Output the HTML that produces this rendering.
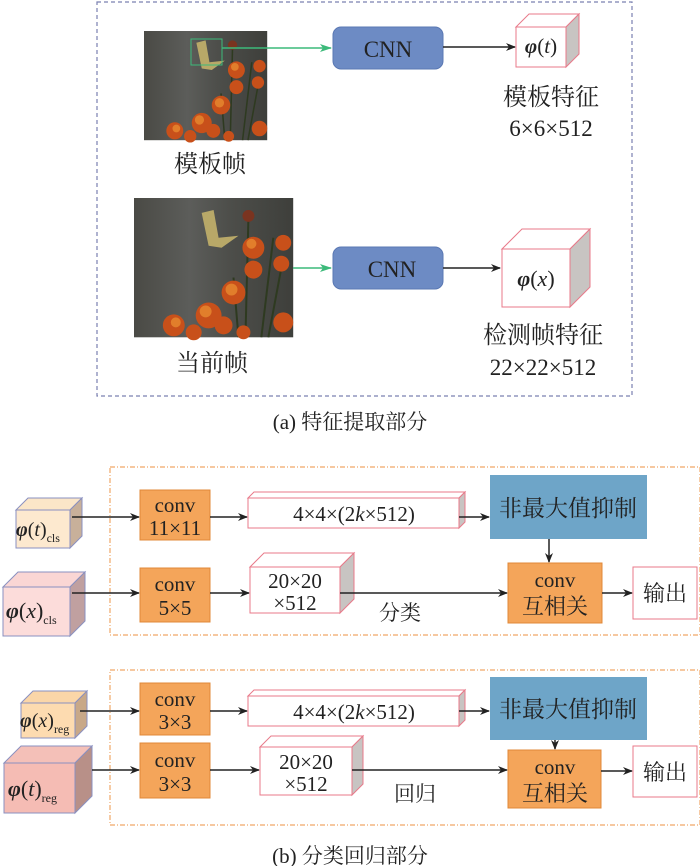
<!DOCTYPE html>
<html><head><meta charset="utf-8"><style>
html,body{margin:0;padding:0;background:#fff;}
svg{display:block;}
text{font-family:"Liberation Serif","Noto Serif CJK SC",serif;fill:#222;}
.cj{font-family:"Liberation Serif","Noto Serif CJK SC","Noto Sans CJK SC",serif;}
</style></head><body>
<svg width="700" height="866" viewBox="0 0 700 866" xmlns="http://www.w3.org/2000/svg">
<defs>
<marker id="ab" markerWidth="10" markerHeight="8" refX="9" refY="4" orient="auto" markerUnits="userSpaceOnUse"><path d="M0,0 L10,4 L0,8 L3,4z" fill="#222"/></marker>
<marker id="ag" markerWidth="12" markerHeight="8" refX="11" refY="4" orient="auto" markerUnits="userSpaceOnUse"><path d="M0,0 L12,4 L0,8 L3,4z" fill="#3cba7a"/></marker>
<linearGradient id="bg" x1="0" x2="1"><stop offset="0" stop-color="#4a4a45"/><stop offset="0.35" stop-color="#5c5d5a"/><stop offset="0.6" stop-color="#4d4e4a"/><stop offset="1" stop-color="#3e3f3b"/></linearGradient>
<g id="photo">
<rect x="0" y="0" width="160" height="140" fill="url(#bg)"/>
<g stroke="#2e3a20" stroke-width="2" fill="none"><path d="M115,20 L112,140"/><path d="M140,40 L128,140"/><path d="M100,80 L105,140"/><path d="M150,60 L135,140"/></g>
<g fill="#c8501a">
<circle cx="115" cy="18" r="6" fill="#7a3420"/>
<circle cx="120" cy="50" r="11"/><circle cx="150" cy="45" r="8"/><circle cx="148" cy="66" r="8"/>
<circle cx="120" cy="72" r="9"/><circle cx="100" cy="95" r="12"/><circle cx="75" cy="118" r="13"/>
<circle cx="40" cy="128" r="11"/><circle cx="150" cy="125" r="10"/><circle cx="110" cy="135" r="7"/><circle cx="60" cy="135" r="8"/><circle cx="90" cy="128" r="9"/>
</g>
<g fill="#e88a30" opacity="0.8"><circle cx="118" cy="46" r="5"/><circle cx="98" cy="92" r="6"/><circle cx="72" cy="114" r="6"/><circle cx="42" cy="125" r="5"/></g>
<path d="M68,15 L80,12 L85,40 L105,38 L88,50 L75,48 Z" fill="#b8a868"/>
</g>
</defs>

<!-- Part (a) -->
<rect x="97" y="2" width="535" height="394" fill="none" stroke="#7a80b0" stroke-width="1.2" stroke-dasharray="4,3"/>
<use href="#photo" transform="translate(144,31) scale(0.77,0.78)"/>
<rect x="191" y="39" width="31" height="26" fill="none" stroke="#3cba7a" stroke-width="1"/>
<line x1="222" y1="48" x2="331" y2="48" stroke="#3cba7a" stroke-width="1.5" marker-end="url(#ag)"/>
<text x="210" y="172" font-size="24" text-anchor="middle" class="cj">模板帧</text>
<rect x="333" y="27" width="110" height="42" rx="8" fill="#6d8bc4" stroke="#5a78b3"/>
<text x="388" y="57" font-size="23" text-anchor="middle">CNN</text>
<line x1="443" y1="47" x2="515" y2="47" stroke="#222" stroke-width="1.5" marker-end="url(#ab)"/>
<polygon points="516,27 529,14 579,14 566,27" fill="#fff" stroke="#e87a8a"/>
<polygon points="566,27 579,14 579,54 566,67" fill="#c8c4c2" stroke="#e87a8a"/>
<rect x="516" y="27" width="50" height="40" fill="#fff" stroke="#e87a8a"/>
<text x="541" y="53" font-size="21" text-anchor="middle" font-style="italic" font-weight="bold">φ<tspan font-weight="normal" font-style="normal">(</tspan><tspan font-weight="normal">t</tspan><tspan font-weight="normal" font-style="normal">)</tspan></text>
<text x="551" y="105" font-size="24" text-anchor="middle" class="cj">模板特征</text>
<text x="551" y="136" font-size="23" text-anchor="middle">6×6×512</text>

<use href="#photo" transform="translate(134,198) scale(0.995,0.995)"/>
<text x="212" y="371" font-size="24" text-anchor="middle" class="cj">当前帧</text>
<line x1="293" y1="268" x2="331" y2="268" stroke="#3cba7a" stroke-width="1.5" marker-end="url(#ag)"/>
<rect x="333" y="247" width="110" height="42" rx="8" fill="#6d8bc4" stroke="#5a78b3"/>
<text x="392" y="277" font-size="23" text-anchor="middle">CNN</text>
<line x1="443" y1="268" x2="500" y2="268" stroke="#222" stroke-width="1.5" marker-end="url(#ab)"/>
<polygon points="502,249 522,229 590,229 570,249" fill="#fff" stroke="#e87a8a"/>
<polygon points="570,249 590,229 590,287 570,307" fill="#c8c4c2" stroke="#e87a8a"/>
<rect x="502" y="249" width="68" height="58" fill="#fff" stroke="#e87a8a"/>
<text x="536" y="286" font-size="22" text-anchor="middle" font-style="italic" font-weight="bold">φ<tspan font-weight="normal" font-style="normal">(</tspan><tspan font-weight="normal">x</tspan><tspan font-weight="normal" font-style="normal">)</tspan></text>
<text x="543" y="343" font-size="24" text-anchor="middle" class="cj">检测帧特征</text>
<text x="543" y="375" font-size="23" text-anchor="middle">22×22×512</text>
<text x="350" y="429" font-size="21" text-anchor="middle" class="cj">(a) 特征提取部分</text>

<!-- Part (b) cls -->
<rect x="110" y="467" width="590" height="168" fill="none" stroke="#f0a868" stroke-width="1.2" stroke-dasharray="5,2,1,2"/>
<polygon points="16,510 28,498 82,498 70,510" fill="#fbe6c8" stroke="#8a90c0"/>
<polygon points="70,510 82,498 82,536 70,548" fill="#c8b09a" stroke="#8a90c0"/>
<rect x="16" y="510" width="54" height="38" fill="#fde9cf" stroke="#8a90c0"/>
<text x="16" y="536" font-size="20" font-style="italic" font-weight="bold">φ<tspan font-weight="normal" font-style="normal">(</tspan><tspan font-weight="normal">t</tspan><tspan font-weight="normal" font-style="normal">)</tspan><tspan font-size="12" font-style="normal" font-weight="normal" dy="6">cls</tspan></text>
<line x1="72" y1="517" x2="139" y2="517" stroke="#222" stroke-width="1.5" marker-end="url(#ab)"/>
<rect x="140" y="490" width="70" height="50" fill="#f4a55a" stroke="#e08838"/>
<text x="175" y="512" font-size="21" text-anchor="middle">conv</text>
<text x="175" y="535" font-size="21" text-anchor="middle">11×11</text>
<line x1="210" y1="517" x2="247" y2="517" stroke="#222" stroke-width="1.5" marker-end="url(#ab)"/>
<polygon points="248,498 254,492 465,492 459,498" fill="#fff" stroke="#e87a8a"/>
<polygon points="459,498 465,492 465,522 459,528" fill="#c8c4c2" stroke="#e87a8a"/>
<rect x="248" y="498" width="211" height="30" fill="#fff" stroke="#e87a8a"/>
<text x="354" y="521" font-size="21" text-anchor="middle">4×4×(2<tspan font-style="italic">k</tspan>×512)</text>
<line x1="459" y1="517" x2="489" y2="517" stroke="#222" stroke-width="1.5" marker-end="url(#ab)"/>
<rect x="490" y="475" width="157" height="64" fill="#6ea5c8"/>
<text x="568" y="516" font-size="23" text-anchor="middle" class="cj">非最大值抑制</text>
<line x1="549" y1="539" x2="549" y2="562" stroke="#222" stroke-width="1.5" marker-end="url(#ab)"/>
<polygon points="3,587 18,572 85,572 70,587" fill="#fad6d4" stroke="#8a90c0"/>
<polygon points="70,587 85,572 85,621 70,636" fill="#c0a0a0" stroke="#8a90c0"/>
<rect x="3" y="587" width="67" height="49" fill="#fcdcda" stroke="#8a90c0"/>
<text x="6" y="618" font-size="22" font-style="italic" font-weight="bold">φ<tspan font-weight="normal" font-style="normal">(</tspan><tspan font-weight="normal">x</tspan><tspan font-weight="normal" font-style="normal">)</tspan><tspan font-size="12" font-style="normal" font-weight="normal" dy="6">cls</tspan></text>
<line x1="72" y1="593" x2="139" y2="593" stroke="#222" stroke-width="1.5" marker-end="url(#ab)"/>
<rect x="140" y="568" width="70" height="54" fill="#f4a55a" stroke="#e08838"/>
<text x="175" y="591" font-size="21" text-anchor="middle">conv</text>
<text x="175" y="615" font-size="21" text-anchor="middle">5×5</text>
<line x1="210" y1="593" x2="249" y2="593" stroke="#222" stroke-width="1.5" marker-end="url(#ab)"/>
<polygon points="250,567 264,553 354,553 340,567" fill="#fff" stroke="#e87a8a"/>
<polygon points="340,567 354,553 354,599 340,613" fill="#c8c4c2" stroke="#e87a8a"/>
<rect x="250" y="567" width="90" height="46" fill="#fff" stroke="#e87a8a"/>
<text x="295" y="588" font-size="21" text-anchor="middle">20×20</text>
<text x="295" y="610" font-size="21" text-anchor="middle">×512</text>
<line x1="340" y1="593" x2="507" y2="593" stroke="#222" stroke-width="1.5" marker-end="url(#ab)"/>
<text x="400" y="620" font-size="21" text-anchor="middle" class="cj">分类</text>
<rect x="508" y="563" width="94" height="60" fill="#f4a55a" stroke="#e08838"/>
<text x="555" y="587" font-size="21" text-anchor="middle">conv</text>
<text x="555" y="614" font-size="22" text-anchor="middle" class="cj">互相关</text>
<line x1="602" y1="593" x2="632" y2="593" stroke="#222" stroke-width="1.5" marker-end="url(#ab)"/>
<rect x="633" y="567" width="64" height="52" fill="#fff" stroke="#e87a8a"/>
<text x="665" y="601" font-size="22" text-anchor="middle" class="cj">输出</text>

<!-- Part (b) reg -->
<rect x="110" y="670" width="590" height="155" fill="none" stroke="#f0a868" stroke-width="1.2" stroke-dasharray="5,2,1,2"/>
<polygon points="21,703 33,691 87,691 75,703" fill="#fbd6a8" stroke="#8a90c0"/>
<polygon points="75,703 87,691 87,726 75,738" fill="#c8a888" stroke="#8a90c0"/>
<rect x="21" y="703" width="54" height="35" fill="#fddbb0" stroke="#8a90c0"/>
<text x="20" y="727" font-size="20" font-style="italic" font-weight="bold">φ<tspan font-weight="normal" font-style="normal">(</tspan><tspan font-weight="normal">x</tspan><tspan font-weight="normal" font-style="normal">)</tspan><tspan font-size="12" font-style="normal" font-weight="normal" dy="6">reg</tspan></text>
<line x1="80" y1="711" x2="139" y2="711" stroke="#222" stroke-width="1.5" marker-end="url(#ab)"/>
<rect x="140" y="683" width="70" height="52" fill="#f4a55a" stroke="#e08838"/>
<text x="175" y="706" font-size="21" text-anchor="middle">conv</text>
<text x="175" y="729" font-size="21" text-anchor="middle">3×3</text>
<line x1="210" y1="711" x2="247" y2="711" stroke="#222" stroke-width="1.5" marker-end="url(#ab)"/>
<polygon points="248,696 254,690 465,690 459,696" fill="#fff" stroke="#e87a8a"/>
<polygon points="459,696 465,690 465,720 459,726" fill="#c8c4c2" stroke="#e87a8a"/>
<rect x="248" y="696" width="211" height="30" fill="#fff" stroke="#e87a8a"/>
<text x="354" y="719" font-size="21" text-anchor="middle">4×4×(2<tspan font-style="italic">k</tspan>×512)</text>
<line x1="459" y1="711" x2="489" y2="711" stroke="#222" stroke-width="1.5" marker-end="url(#ab)"/>
<rect x="490" y="677" width="157" height="63" fill="#6ea5c8"/>
<text x="568" y="717" font-size="23" text-anchor="middle" class="cj">非最大值抑制</text>
<line x1="555" y1="740" x2="555" y2="749" stroke="#222" stroke-width="1.5" marker-end="url(#ab)"/>
<polygon points="4,763 21,746 92,746 75,763" fill="#f4c0b8" stroke="#8a90c0"/>
<polygon points="75,763 92,746 92,796 75,813" fill="#b89088" stroke="#8a90c0"/>
<rect x="4" y="763" width="71" height="50" fill="#f5bcb4" stroke="#8a90c0"/>
<text x="8" y="796" font-size="22" font-style="italic" font-weight="bold">φ<tspan font-weight="normal" font-style="normal">(</tspan><tspan font-weight="normal">t</tspan><tspan font-weight="normal" font-style="normal">)</tspan><tspan font-size="12" font-style="normal" font-weight="normal" dy="6">reg</tspan></text>
<line x1="92" y1="770" x2="139" y2="770" stroke="#222" stroke-width="1.5" marker-end="url(#ab)"/>
<rect x="140" y="743" width="70" height="55" fill="#f4a55a" stroke="#e08838"/>
<text x="175" y="767" font-size="21" text-anchor="middle">conv</text>
<text x="175" y="791" font-size="21" text-anchor="middle">3×3</text>
<line x1="210" y1="770" x2="259" y2="770" stroke="#222" stroke-width="1.5" marker-end="url(#ab)"/>
<polygon points="260,747 271,736 363,736 352,747" fill="#fff" stroke="#e87a8a"/>
<polygon points="352,747 363,736 363,784 352,795" fill="#c8c4c2" stroke="#e87a8a"/>
<rect x="260" y="747" width="92" height="48" fill="#fff" stroke="#e87a8a"/>
<text x="306" y="769" font-size="21" text-anchor="middle">20×20</text>
<text x="306" y="791" font-size="21" text-anchor="middle">×512</text>
<line x1="352" y1="770" x2="507" y2="770" stroke="#222" stroke-width="1.5" marker-end="url(#ab)"/>
<text x="415" y="801" font-size="21" text-anchor="middle" class="cj">回归</text>
<rect x="508" y="750" width="93" height="58" fill="#f4a55a" stroke="#e08838"/>
<text x="555" y="774" font-size="21" text-anchor="middle">conv</text>
<text x="555" y="801" font-size="22" text-anchor="middle" class="cj">互相关</text>
<line x1="601" y1="771" x2="632" y2="771" stroke="#222" stroke-width="1.5" marker-end="url(#ab)"/>
<rect x="633" y="746" width="64" height="51" fill="#fff" stroke="#e87a8a"/>
<text x="665" y="780" font-size="22" text-anchor="middle" class="cj">输出</text>
<text x="350" y="863" font-size="21" text-anchor="middle" class="cj">(b) 分类回归部分</text>
</svg>
</body></html>
